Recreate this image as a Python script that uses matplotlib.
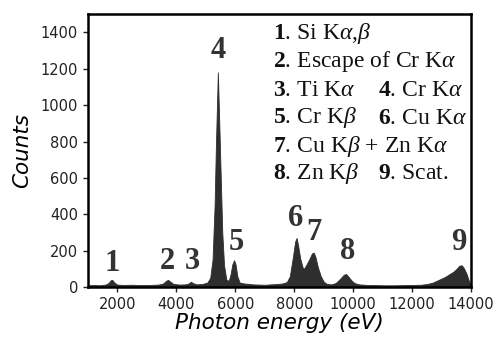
import matplotlib
matplotlib.use("Agg")
import matplotlib.pyplot as plt

plt.rcParams['mathtext.fontset'] = 'custom'
plt.rcParams['mathtext.rm'] = 'Liberation Serif'
plt.rcParams['mathtext.it'] = 'Liberation Serif:italic'
plt.rcParams['mathtext.bf'] = 'Liberation Serif:bold'

energy = [1000, 1200, 1400, 1600, 1700, 1780, 1830, 1900, 2000, 2200, 2500, 2800,
          3100, 3400, 3550, 3650, 3720, 3800, 3900, 4100, 4300, 4420, 4500, 4560,
          4700, 4900, 5050, 5150, 5230, 5300, 5340, 5380, 5410, 5450, 5500, 5560,
          5620, 5700, 5780, 5840, 5900, 5960, 6010, 6070, 6150, 6300, 6450, 6600,
          6800, 7000, 7200, 7400, 7600, 7750, 7850, 7950, 8030, 8080, 8130, 8200,
          8280, 8330, 8400, 8500, 8600, 8660, 8720, 8800, 8900, 9000, 9100, 9250,
          9400, 9550, 9680, 9760, 9850, 9950, 10050, 10200, 10500, 10800, 11100,
          11400, 11700, 12000, 12300, 12500, 12700, 12900, 13100, 13250, 13400,
          13500, 13600, 13680, 13750, 13850, 13930, 14000]
counts = [10, 12, 10, 14, 22, 38, 40, 25, 14, 12, 13, 11,
          12, 14, 20, 34, 40, 30, 18, 14, 15, 20, 30, 22,
          15, 18, 25, 50, 150, 450, 750, 1000, 1180, 950, 650, 300,
          120, 40, 35, 70, 125, 148, 125, 60, 25, 20, 18, 15,
          14, 13, 15, 17, 20, 28, 60, 160, 250, 270, 230, 160,
          110, 100, 120, 150, 185, 190, 165, 110, 60, 30, 18, 15,
          22, 45, 68, 72, 55, 35, 22, 15, 12, 11, 10,
          10, 11, 12, 13, 17, 25, 40, 55, 70, 85,
          100, 118, 120, 105, 70, 30, 5]

peak_labels = ['1', '2', '3', '4', '5', '6', '7', '8', '9']
peak_x = [1823, 3700, 4540, 5432, 6040, 8030, 8680, 9800, 13590]
peak_y = [132, 143, 143, 1301, 243, 375, 298, 198, 243]

legend_col1 = [r"$\mathbf{1}$. Si K$\alpha$,$\beta$",
               r"$\mathbf{2}$. Escape of Cr K$\alpha$",
               r"$\mathbf{3}$. Ti K$\alpha$",
               r"$\mathbf{5}$. Cr K$\beta$",
               r"$\mathbf{7}$. Cu K$\beta$ + Zn K$\alpha$",
               r"$\mathbf{8}$. Zn K$\beta$"]
legend_col2 = [None, None,
               r"$\mathbf{4}$. Cr K$\alpha$",
               r"$\mathbf{6}$. Cu K$\alpha$",
               None,
               r"$\mathbf{9}$. Scat."]

fig = plt.figure(figsize=(4.96, 3.37), dpi=100)
ax = fig.add_axes([0.177, 0.148, 0.773, 0.81])
ax.fill_between(energy, 0, counts, color='#2e2e2e', linewidth=0.6, edgecolor='#2e2e2e')
ax.set_xlim(1000, 14000)
ax.set_ylim(0, 1500)
ax.set_xticks(range(2000, 14001, 2000))
ax.set_yticks(range(0, 1401, 200))
ax.tick_params(labelsize=10.5, length=3.5, width=1, colors='#222222')
for s in ax.spines.values():
    s.set_linewidth(1.8)
ax.set_xlabel('Photon energy (eV)', fontsize=15.5, fontstyle='italic', labelpad=1)
ax.set_ylabel('Counts', fontsize=15.5, fontstyle='italic', labelpad=6)

for lab, px, py in zip(peak_labels, peak_x, peak_y):
    ax.text(px, py, lab, ha='center', va='center', fontsize=22, fontweight='bold',
            family='Liberation Serif', color='#333333')

line_y = [33, 62, 90, 118, 146, 174]
for t1, t2, yp in zip(legend_col1, legend_col2, line_y):
    fig.text(273 / 496, 1 - yp / 337, t1, ha='left', va='center', fontsize=17,
             family='Liberation Serif', color='#111111')
    if t2:
        fig.text(378 / 496, 1 - yp / 337, t2, ha='left', va='center', fontsize=17,
                 family='Liberation Serif', color='#111111')

fig.savefig('out.png', dpi=100)
